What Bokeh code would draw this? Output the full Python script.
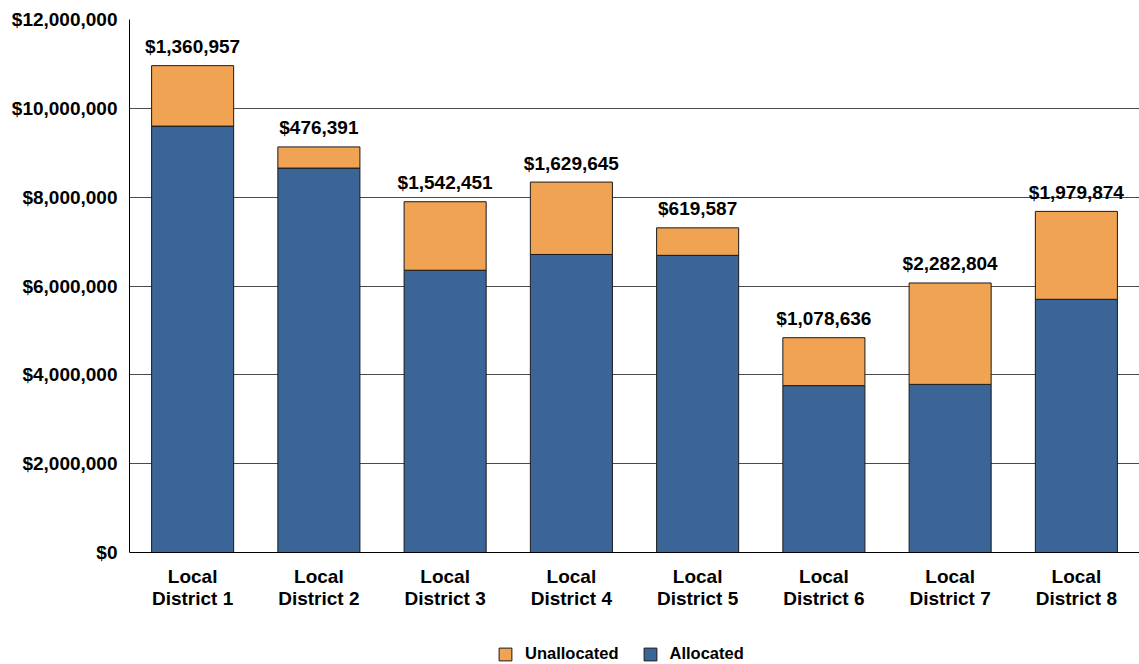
from bokeh.plotting import figure
from bokeh.models import Legend, LegendItem, FixedTicker, Range1d, ColumnDataSource, Span
from bokeh.core.properties import value
from bokeh.embed import file_html
from bokeh.resources import INLINE

districts = ["District 1", "District 2", "District 3", "District 4",
             "District 5", "District 6", "District 7", "District 8"]
prefix = "Local"
allocated = [9600000, 8655000, 6355000, 6710000, 6690000, 3757000, 3785000, 5700000]
unallocated = [1360957, 476391, 1542451, 1629645, 619587, 1078636, 2282804, 1979874]
y_ticks = [0, 2000000, 4000000, 6000000, 8000000, 10000000, 12000000]
y_tick_labels = ["$0", "$2,000,000", "$4,000,000", "$6,000,000", "$8,000,000", "$10,000,000", "$12,000,000"]

FONT = "Liberation Sans"
BLUE = "#3B6597"
ORANGE = "#EFA353"
FS = "19px"

totals = [a + u for a, u in zip(allocated, unallocated)]
bar_labels = ["${:,}".format(u) for u in unallocated]

src = ColumnDataSource(dict(x=districts, allocated=allocated, unallocated=unallocated,
                            total=totals, label=bar_labels, base=[0] * len(districts),
                            line1=[prefix] * len(districts), line2=districts))

# frame: value axis spans 533px for 0..12M; extra 112px below zero holds the
# category labels and the legend
Y_MAX = 12000000
Y_MIN = -Y_MAX * 112 / 533
p = figure(x_range=districts, y_range=Range1d(Y_MIN, Y_MAX),
           frame_width=1010, frame_height=645, x_axis_location=None,
           output_backend="svg", toolbar_location=None,
           min_border_left=129, min_border_right=0, min_border_top=19, min_border_bottom=0)
p.outline_line_color = None
p.background_fill_color = "white"

rs = p.vbar_stack(["allocated", "unallocated"], x="x", width=0.65, source=src,
                  fill_color=[BLUE, ORANGE], line_color="#1a1a1a", line_width=1)

p.text(x="x", y="total", text="label", source=src, text_align="center",
       text_baseline="alphabetic", y_offset=-19, text_font=value(FONT),
       text_font_style="bold", text_font_size=FS, text_color="black")

# category labels, two lines
for col, off in (("line1", 24), ("line2", 46)):
    p.text(x="x", y="base", text=col, source=src, text_align="center",
           text_baseline="middle", y_offset=off, text_font=value(FONT),
           text_font_style="bold", text_font_size=FS, text_color="black")

# baseline
p.add_layout(Span(location=0, dimension="width", line_color="black", line_width=1))

# y axis
p.yaxis.ticker = FixedTicker(ticks=y_ticks)
p.yaxis.bounds = (0, Y_MAX)
p.yaxis.major_label_overrides = {t: l for t, l in zip(y_ticks, y_tick_labels)}
p.yaxis.major_tick_line_color = None
p.yaxis.major_tick_out = 0
p.yaxis.major_tick_in = 0
p.yaxis.minor_tick_line_color = None
p.yaxis.axis_line_color = "black"
p.yaxis.major_label_standoff = 12
p.yaxis.major_label_text_font = FONT
p.yaxis.major_label_text_font_style = "bold"
p.yaxis.major_label_text_font_size = FS
p.yaxis.major_label_text_color = "black"

p.xgrid.grid_line_color = None
p.ygrid.ticker = FixedTicker(ticks=y_ticks)
p.ygrid.grid_line_color = "#4a4a4a"
p.ygrid.grid_line_width = 1

legend = Legend(items=[LegendItem(label="Unallocated", renderers=[rs[1]]),
                       LegendItem(label="Allocated", renderers=[rs[0]])],
                orientation="horizontal", location=(368, 1),
                border_line_color=None, background_fill_alpha=0,
                label_text_font=FONT, label_text_font_style="bold",
                label_text_font_size="16.5px", label_text_color="black",
                glyph_width=16, glyph_height=16, label_standoff=12, spacing=23,
                padding=0, margin=0)
p.add_layout(legend, "center")

open("out.html", "w").write(file_html(p, INLINE))
